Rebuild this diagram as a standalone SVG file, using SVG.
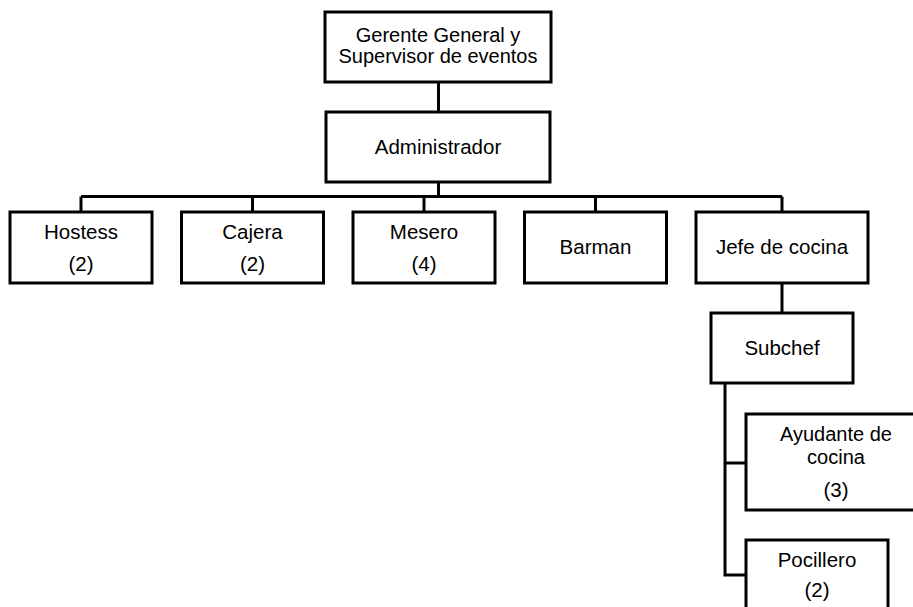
<svg xmlns="http://www.w3.org/2000/svg" width="913" height="607" viewBox="0 0 913 607">
  <style>
    .box { fill: #fff; stroke: #000; stroke-width: 3; }
    .link { fill: none; stroke: #000; stroke-width: 3; }
    text { font-family: "Liberation Sans", Arial, sans-serif; font-size: 20.5px; fill: #000; text-anchor: middle; }
    .tight { font-size: 20px; }
  </style>
  <rect width="913" height="607" fill="#fff"/>

  <!-- connectors -->
  <g id="connectors" class="link">
    <path d="M438.5 82 V112"/>
    <path d="M438.5 182 V196.5"/>
    <path d="M81 196.5 H782"/>
    <path d="M81 196.5 V212"/>
    <path d="M252.5 196.5 V212"/>
    <path d="M424 196.5 V212"/>
    <path d="M595.5 196.5 V212"/>
    <path d="M782 196.5 V212"/>
    <path d="M782 283 V313"/>
    <path d="M725 383 V575 H746"/>
    <path d="M725 463 H746"/>
  </g>

  <g id="gerente">
    <rect class="box" x="325" y="12" width="226" height="70"/>
    <text class="tight" x="438" y="42">Gerente General y</text>
    <text class="tight" x="438" y="63">Supervisor de eventos</text>
  </g>
  <g id="administrador">
    <rect class="box" x="326" y="112" width="224" height="70"/>
    <text x="438" y="154">Administrador</text>
  </g>
  <g id="hostess">
    <rect class="box" x="10" y="212" width="142" height="71"/>
    <text x="81" y="239">Hostess</text>
    <text x="81" y="271">(2)</text>
  </g>
  <g id="cajera">
    <rect class="box" x="181.5" y="212" width="142" height="71"/>
    <text x="252.5" y="239">Cajera</text>
    <text x="252.5" y="271">(2)</text>
  </g>
  <g id="mesero">
    <rect class="box" x="353" y="212" width="142" height="71"/>
    <text x="424" y="239">Mesero</text>
    <text x="424" y="271">(4)</text>
  </g>
  <g id="barman">
    <rect class="box" x="524.5" y="212" width="142" height="71"/>
    <text x="595.5" y="254">Barman</text>
  </g>
  <g id="jefe-cocina">
    <rect class="box" x="696" y="212" width="172" height="71"/>
    <text x="782" y="254">Jefe de cocina</text>
  </g>
  <g id="subchef">
    <rect class="box" x="711" y="313" width="142" height="70"/>
    <text x="782" y="355">Subchef</text>
  </g>
  <g id="ayudante">
    <rect class="box" x="746" y="414" width="180" height="96"/>
    <text class="tight" x="836" y="441">Ayudante de</text>
    <text class="tight" x="836" y="464">cocina</text>
    <text x="836" y="497">(3)</text>
  </g>
  <g id="pocillero">
    <rect class="box" x="746" y="540" width="142" height="80"/>
    <text x="817" y="567">Pocillero</text>
    <text x="817" y="597">(2)</text>
  </g>
</svg>
